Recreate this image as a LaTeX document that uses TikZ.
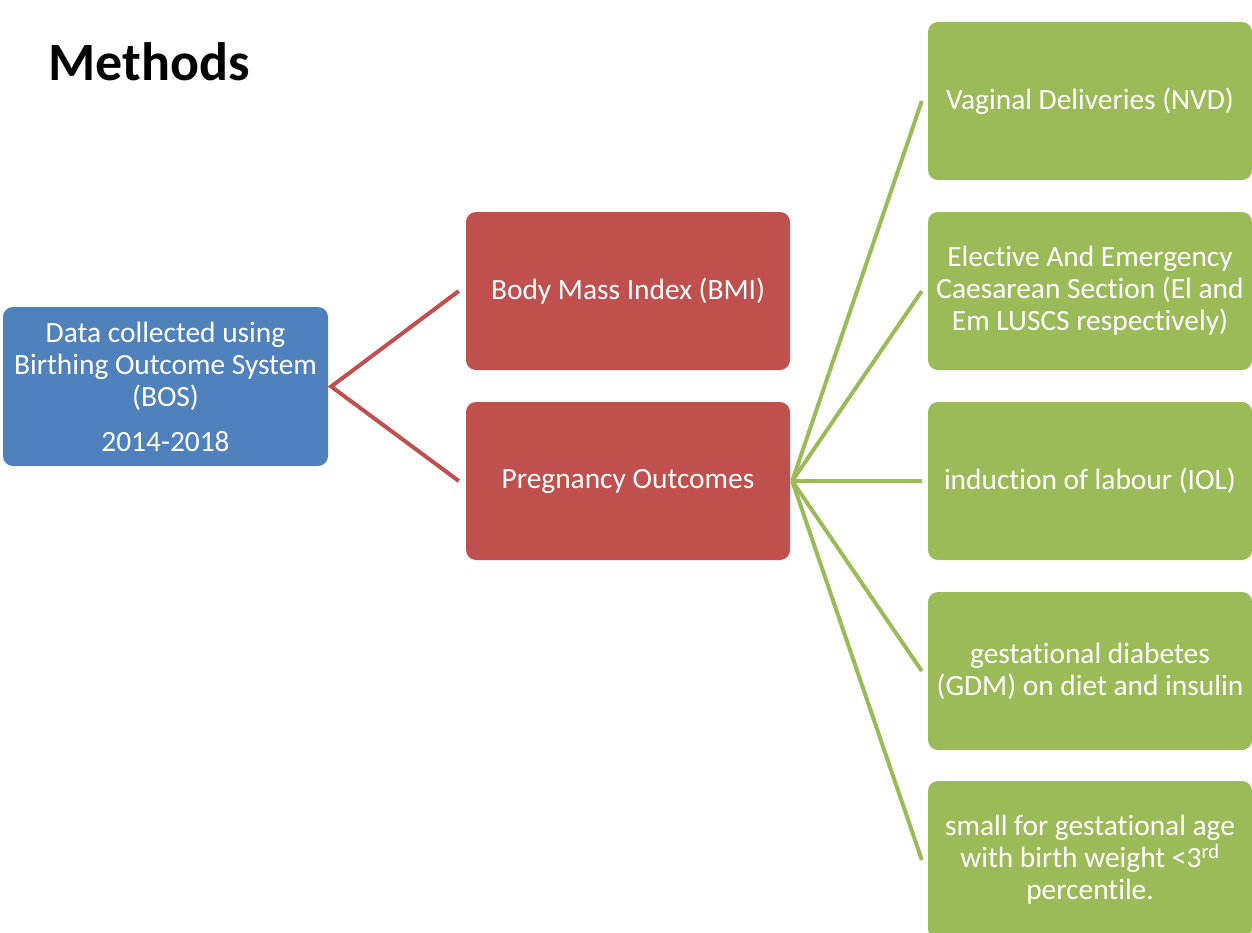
\documentclass[tikz,border=0pt]{standalone}
\usepackage{fontspec}
\setmainfont[Ligatures=NoCommon]{Carlito}
\definecolor{bluebox}{HTML}{4F81BD}
\definecolor{redbox}{HTML}{C0504D}
\definecolor{greenbox}{HTML}{9BBB59}
\tikzset{
  box/.style={rectangle, rounded corners=10pt, minimum width=324pt, minimum height=158pt,
    inner sep=0pt, text=white, align=center, font=\fontsize{29.4}{32}\selectfont},
  bluenode/.style={box, fill=bluebox, minimum width=325pt, minimum height=159pt},
  rednode/.style={box, fill=redbox},
  greennode/.style={box, fill=greenbox},
  redline/.style={draw=redbox, line width=4pt, line join=miter},
  greenline/.style={draw=greenbox, line width=4pt},
}
\begin{document}
\begin{tikzpicture}[x=1pt,y=-1pt]
\useasboundingbox (0,0) rectangle (1252,932);
\clip (0,0) rectangle (1252,932);
\node[font=\fontsize{54}{60}\selectfont\bfseries, anchor=center] (title) at (149,62) {Methods};
\node[bluenode] (bos) at (165.5,386.5) {Data collected using\\Birthing Outcome System\\(BOS)\\[13pt]2014-2018};
\node[rednode] (bmi) at (628,291) {Body Mass Index (BMI)};
\node[rednode] (preg) at (628,481) {Pregnancy Outcomes};
\node[greennode] (g1) at (1090,101) {Vaginal Deliveries (NVD)};
\node[greennode] (g2) at (1090,291) {Elective And Emergency\\Caesarean Section (El and\\Em LUSCS respectively)};
\node[greennode] (g3) at (1090,481) {induction of labour (IOL)};
\node[greennode] (g4) at (1090,671) {gestational diabetes\\(GDM) on diet and insulin};
\node[greennode] (g5) at (1090,860) {small for gestational age\\with birth weight <3\textsuperscript{rd}\\percentile.};
\draw[redline] ([xshift=-7pt]bmi.west) -- ([xshift=3pt]bos.east) -- ([xshift=-7pt]preg.west);
\foreach \g in {g1,g2,g3,g4,g5}
  \draw[greenline] ([xshift=2pt]preg.east) -- ([xshift=-6pt]\g.west);
\end{tikzpicture}
\end{document}
